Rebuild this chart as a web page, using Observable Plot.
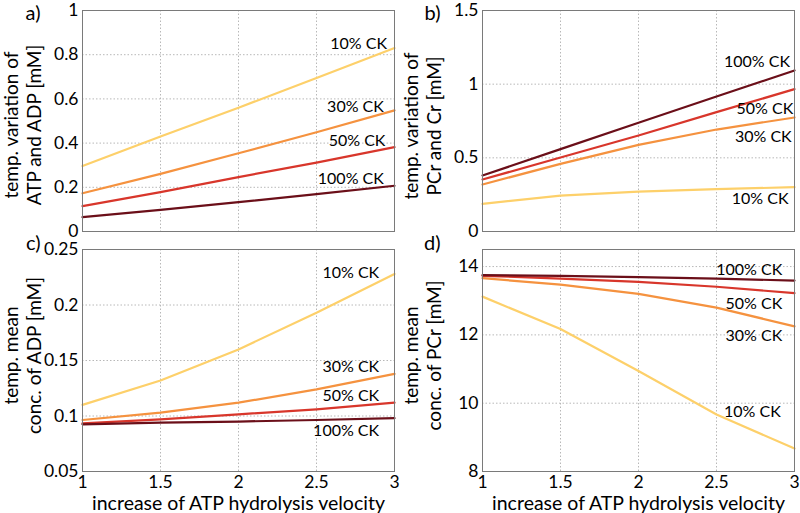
<!DOCTYPE html>
<html>
<head>
<meta charset="utf-8">
<script src="https://cdn.jsdelivr.net/npm/d3@7"></script>
<script src="https://cdn.jsdelivr.net/npm/@observablehq/plot@0.6"></script>
<style>
  html, body { margin: 0; padding: 0; background: #fff; }
  #wrap { position: relative; width: 800px; height: 513px; overflow: hidden; font-family: Lato, sans-serif; }
  .panel { position: absolute; }
</style>
</head>
<body>
<div id="wrap">
  <div class="panel" id="pa" style="left:0;top:0"></div>
  <div class="panel" id="pb" style="left:400px;top:0"></div>
  <div class="panel" id="pc" style="left:0;top:240px"></div>
  <div class="panel" id="pd" style="left:400px;top:240px"></div>
</div>
<script>
// ---- data ----
const xs = [1, 1.5, 2, 2.5, 3];
const series = ["10% CK", "30% CK", "50% CK", "100% CK"];
const seriesColors = ["#fdd06a", "#f5923f", "#d8362b", "#6b0f19"];
const xTicks = [1, 1.5, 2, 2.5, 3];

// panel a: temp. variation of ATP and ADP [mM]
const a10 = [0.296, 0.43, 0.56, 0.695, 0.83];
const a30 = [0.173, 0.261, 0.354, 0.449, 0.548];
const a50 = [0.115, 0.178, 0.246, 0.312, 0.382];
const a100 = [0.065, 0.098, 0.133, 0.169, 0.207];
const aTicks = [0, 0.2, 0.4, 0.6, 0.8, 1];
const aLabelX = [2.77, 2.75, 2.76, 2.72];
const aLabelY = [0.85, 0.566, 0.41, 0.24];

// panel b: temp. variation of PCr and Cr [mM]
const b10 = [0.188, 0.244, 0.271, 0.287, 0.301];
const b30 = [0.319, 0.459, 0.588, 0.692, 0.774];
const b50 = [0.353, 0.502, 0.652, 0.81, 0.966];
const b100 = [0.38, 0.559, 0.738, 0.916, 1.093];
const bTicks = [0, 0.5, 1, 1.5];
const bLabelX = [2.78, 2.8, 2.81, 2.76];
const bLabelY = [0.22, 0.64, 0.835, 1.15];

// panel c: temp. mean conc. of ADP [mM]
const c10 = [0.11, 0.132, 0.16, 0.193, 0.228];
const c30 = [0.0964, 0.103, 0.112, 0.124, 0.138];
const c50 = [0.0934, 0.097, 0.1015, 0.106, 0.112];
const c100 = [0.0925, 0.094, 0.095, 0.0964, 0.098];
const cTicks = [0.05, 0.1, 0.15, 0.2, 0.25];
const cLabelX = [2.72, 2.72, 2.72, 2.69];
const cLabelY = [0.229, 0.144, 0.118, 0.0863];

// panel d: temp. mean conc. of PCr [mM]
const d10 = [13.12, 12.17, 10.94, 9.67, 8.67];
const d30 = [13.66, 13.47, 13.2, 12.8, 12.25];
const d50 = [13.73, 13.65, 13.55, 13.41, 13.22];
const d100 = [13.75, 13.73, 13.69, 13.65, 13.59];
const dTicks = [8, 10, 12, 14];
const dLabelX = [2.73, 2.74, 2.74, 2.71];
const dLabelY = [9.76, 11.97, 12.92, 13.9];

// ---- build ----
function rows(arrs) {
  const out = [];
  arrs.forEach((arr, i) => arr.forEach((v, j) => out.push({x: xs[j], y: v, s: series[i]})));
  return out;
}
function labels(lx, ly) {
  return series.map((s, i) => ({x: lx[i], y: ly[i], s}));
}

const FONT = "Lato, sans-serif";

function panel({el, height, mt, mb, yDomain, yTicks, arrs, lx, ly, ylabel, tag, tagDy, labelDy, showX}) {
  const marks = [
    Plot.gridX(xTicks, {stroke: "#b8b8b8", strokeOpacity: 1, strokeDasharray: "1.5,2"}),
    Plot.gridY(yTicks, {stroke: "#b8b8b8", strokeOpacity: 1, strokeDasharray: "1.5,2"}),
    Plot.line(rows(arrs), {x: "x", y: "y", z: "s", stroke: "s", strokeWidth: 2.2}),
    Plot.frame({stroke: "#7a7a7a", strokeWidth: 1}),
    Plot.text(labels(lx, ly), {x: "x", y: "y", text: "s", fontSize: 16, fill: "black", textAnchor: "middle", lineAnchor: "middle"}),
    Plot.axisY(yTicks, {tickSize: 0, tickPadding: 4, fontSize: 17.5, tickFormat: d3.format("~g"), label: null, color: "black"}),
    Plot.text([ylabel], {frameAnchor: "left", rotate: -90, dx: -60.5, dy: labelDy, fontSize: 19, lineHeight: 1.25, lineAnchor: "middle", textAnchor: "middle", fill: "black"}),
    Plot.text([tag], {frameAnchor: "top-left", dx: -42, dy: tagDy, fontSize: 20, textAnchor: "end", lineAnchor: "middle", fill: "black"})
  ];
  if (showX) {
    marks.push(Plot.axisX(xTicks, {tickSize: 0, tickPadding: 4, fontSize: 17.5, tickFormat: d3.format("~g"), label: null, color: "black"}));
    marks.push(Plot.text(["increase of ATP hydrolysis velocity"], {frameAnchor: "bottom", dy: 32, fontSize: 19.5, lineAnchor: "middle", fill: "black"}));
  } else {
    marks.push(Plot.axisX({ticks: [], label: null}));
  }
  const chart = Plot.plot({
    width: 400, height,
    marginLeft: 82, marginRight: 6, marginTop: mt, marginBottom: mb,
    style: {fontFamily: FONT, background: "white", overflow: "visible"},
    x: {domain: [1, 3]},
    y: {domain: yDomain},
    color: {domain: series, range: seriesColors},
    marks
  });
  document.getElementById(el).appendChild(chart);
}

panel({el: "pa", height: 240, mt: 10, mb: 9, yDomain: [0, 1], yTicks: aTicks,
  arrs: [a10, a30, a50, a100], lx: aLabelX, ly: aLabelY,
  ylabel: "temp. variation of\nATP and ADP [mM]", tag: "a)", tagDy: 3, labelDy: 4, showX: false});
panel({el: "pb", height: 240, mt: 10, mb: 9, yDomain: [0, 1.5], yTicks: bTicks,
  arrs: [b10, b30, b50, b100], lx: bLabelX, ly: bLabelY,
  ylabel: "temp. variation of\nPCr and Cr [mM]", tag: "b)", tagDy: 3, labelDy: 5, showX: false});
panel({el: "pc", height: 273, mt: 9, mb: 42, yDomain: [0.05, 0.25], yTicks: cTicks,
  arrs: [c10, c30, c50, c100], lx: cLabelX, ly: cLabelY,
  ylabel: "temp. mean\nconc. of ADP [mM]", tag: "c)", tagDy: -6, labelDy: -5, showX: true});
panel({el: "pd", height: 273, mt: 9, mb: 42, yDomain: [8, 14.5], yTicks: dTicks,
  arrs: [d10, d30, d50, d100], lx: dLabelX, ly: dLabelY,
  ylabel: "temp. mean\nconc. of PCr [mM]", tag: "d)", tagDy: -6, labelDy: -5, showX: true});
</script>
</body>
</html>
